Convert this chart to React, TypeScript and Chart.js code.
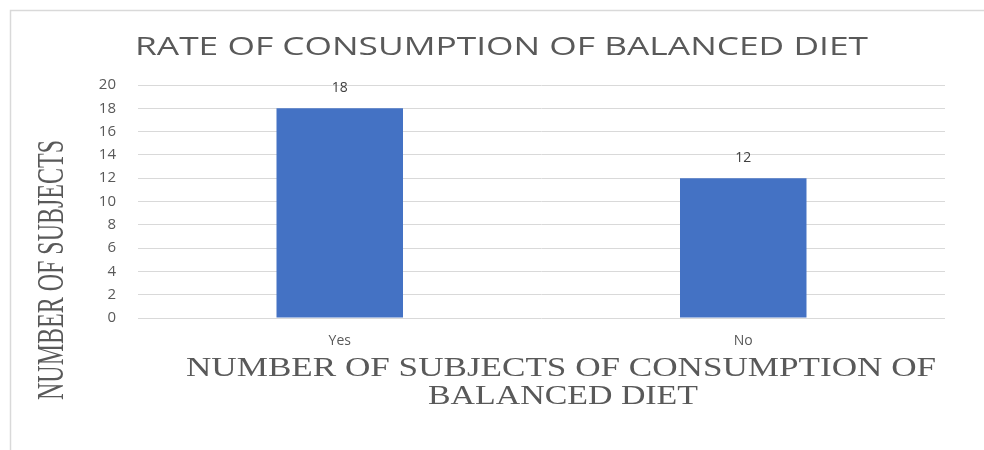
import React, { useEffect, useRef } from "react";
import { Chart, registerables } from "chart.js";

Chart.register(...registerables);

const categories = ["Yes", "No"];
const values = [18, 12];
const yMin = 0;
const yMax = 20;
const yStep = 2;
const chartTitle = "RATE OF CONSUMPTION OF BALANCED DIET";
const xTitleLines = ["NUMBER OF SUBJECTS OF CONSUMPTION OF", "BALANCED DIET"];
const yTitle = "NUMBER OF SUBJECTS";

const SANS = "'Open Sans', 'Noto Sans', sans-serif";
const SERIF = "'Liberation Serif', 'DejaVu Serif', serif";

function drawFitted(
  ctx: CanvasRenderingContext2D,
  text: string,
  x: number,
  y: number,
  targetWidth: number,
  font: string,
  color: string,
  rotate = 0
) {
  ctx.save();
  ctx.font = font;
  ctx.fillStyle = color;
  ctx.textAlign = "center";
  ctx.textBaseline = "alphabetic";
  const w = ctx.measureText(text).width;
  ctx.translate(x, y);
  if (rotate) ctx.rotate(rotate);
  ctx.scale(targetWidth / w, 1);
  ctx.fillText(text, 0, 0);
  ctx.restore();
}

const decorPlugin = {
  id: "decor",
  beforeDraw(chart: any) {
    const ctx = chart.ctx as CanvasRenderingContext2D;
    ctx.save();
    ctx.strokeStyle = "#d9d9d9";
    ctx.lineWidth = 1.5;
    ctx.beginPath();
    ctx.moveTo(10.5, 450);
    ctx.lineTo(10.5, 10.5);
    ctx.lineTo(984, 10.5);
    ctx.stroke();
    ctx.restore();
  },
  afterDraw(chart: any) {
    const ctx = chart.ctx as CanvasRenderingContext2D;
    drawFitted(ctx, chartTitle, 501.5, 55, 733, `26px ${SANS}`, "#595959");
    drawFitted(ctx, xTitleLines[0], 561, 376, 750, `28px ${SERIF}`, "#595959");
    drawFitted(ctx, xTitleLines[1], 563, 404, 270, `28px ${SERIF}`, "#595959");
    drawFitted(ctx, yTitle, 63, 270, 260, `37px ${SERIF}`, "#595959", -Math.PI / 2);
  },
  afterDatasetsDraw(chart: any) {
    const ctx = chart.ctx as CanvasRenderingContext2D;
    const meta = chart.getDatasetMeta(0);
    ctx.save();
    ctx.font = `14px ${SANS}`;
    ctx.fillStyle = "#404040";
    ctx.textAlign = "center";
    ctx.textBaseline = "middle";
    meta.data.forEach((bar: any, i: number) => {
      ctx.fillText(String(values[i]), bar.x, bar.y - 20);
    });
    ctx.restore();
  },
};

export default function App() {
  const ref = useRef<HTMLCanvasElement>(null);

  useEffect(() => {
    if (!ref.current) return;
    const chart = new Chart(ref.current, {
      type: "bar",
      data: {
        labels: categories,
        datasets: [
          {
            data: values,
            backgroundColor: "#4472c4",
            borderWidth: 0,
            categoryPercentage: 1,
            barPercentage: 0.3135,
          },
        ],
      },
      options: {
        responsive: false,
        animation: false,
        devicePixelRatio: 1,
        layout: { padding: { left: 0, right: 39, top: 85, bottom: 0 } },
        plugins: {
          legend: { display: false },
          title: { display: false },
          tooltip: { enabled: false },
        },
        scales: {
          x: {
            grid: { display: false, drawTicks: false },
            border: { display: false },
            ticks: {
              color: "#595959",
              font: { family: SANS, size: 14 },
              padding: 15,
            },
            afterFit: (scale: any) => {
              scale.height = 132;
            },
          },
          y: {
            min: yMin,
            max: yMax,
            grid: { color: "#d9d9d9", lineWidth: 1, drawTicks: false },
            border: { display: false },
            ticks: {
              stepSize: yStep,
              color: "#595959",
              font: { family: SANS, size: 15 },
              padding: 22,
            },
            afterFit: (scale: any) => {
              scale.width = 138;
            },
          },
        },
      },
      plugins: [decorPlugin],
    });
    return () => chart.destroy();
  }, []);

  return (
    <div style={{ position: "absolute", left: 0, top: 0, width: 984, height: 450, background: "#fff" }}>
      <canvas ref={ref} width={984} height={450} style={{ display: "block" }} />
    </div>
  );
}
